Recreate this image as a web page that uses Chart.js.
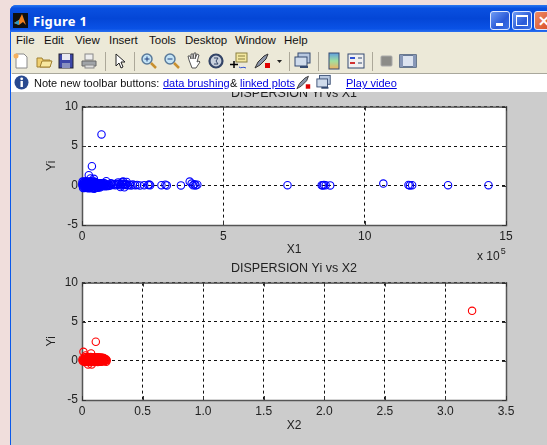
<!DOCTYPE html>
<html><head><meta charset="utf-8">
<script src="https://cdn.jsdelivr.net/npm/chart.js@4"></script>
<style>
html,body{margin:0;padding:0;width:547px;height:445px;overflow:hidden;background:#f0dedc;font-family:"Liberation Sans",sans-serif}
#win{position:absolute;left:10px;top:5px;width:545px;height:445px;background:#0a58ea;border-radius:6px 6px 0 0}
#titlebar{position:absolute;left:0;top:0;width:100%;height:27px;background:linear-gradient(#2a78f0 0,#0a50e0 12%,#0446d6 50%,#0a52e6 88%,#2a70f0 100%);border-radius:6px 6px 0 0}
#ttext{position:absolute;left:23px;top:7px;color:#fff;font:bold 13px "Noto Sans",sans-serif;letter-spacing:.3px}
.wb{position:absolute;top:6px;width:20px;height:19px;box-sizing:border-box;border:1px solid #dfe8ff;border-radius:3px;background:linear-gradient(135deg,#6f9cf4,#2a5ad8 60%,#3a70e6)}
#menu,#tool,#note,#fig{position:absolute;left:12px;width:535px}
#menu{top:32px;height:18px;background:#ece9d8;color:#111;font-size:11.5px;line-height:17px;box-shadow:-1px 0 0 #ece9d8}
#menu span{position:absolute;top:0}
#tool{top:50px;background:#ece9d8;border-bottom:1px solid #a9a89c;height:23px;box-shadow:-1px 0 0 #ece9d8}
#tool svg{position:absolute;top:2px;width:18px;height:18px}
.sep{position:absolute;top:2px;width:1px;height:19px;background:#aca899}
#note{top:74px;height:18px;background:#fff;color:#111;font-size:11px;line-height:18px;z-index:3;white-space:nowrap;box-shadow:-1px 0 0 #fff}
#note span,#note a,#note svg{position:absolute}
#note a{color:#0000e0;text-decoration:underline}
#fig{top:92px;height:353px;background:#cccccc;box-shadow:-1px 0 0 #cccccc}
canvas{position:absolute;left:12px;display:block}
#c1{top:74px;z-index:1}
#c2{top:261px;z-index:1}
#exp{position:absolute;left:477px;top:249px;font:12px "Liberation Sans",sans-serif;color:#222;z-index:2;white-space:nowrap}
#exp sup{font-size:9px;line-height:0;vertical-align:6px;margin-left:1px}
</style></head>
<body>
<div id="win">
  <div id="titlebar">
    <svg style="position:absolute;left:3px;top:8px" width="15" height="15" viewBox="0 0 15 15"><rect width="15" height="15" fill="#101010"/><path d="M1 10 L6 7 L9 1 L13 12 L10 9 L6 12Z" fill="#f08020"/><path d="M1 10 L6 7 L6 12Z" fill="#2a9ac8"/></svg>
    <div id="ttext">Figure 1</div>
    <div class="wb" style="left:480px"><div style="position:absolute;left:5px;bottom:3px;width:7px;height:3px;background:#fff"></div></div>
    <div class="wb" style="left:502px"><div style="position:absolute;left:3px;top:3px;width:12px;height:11px;border:1px solid #fff;border-top-width:2px;box-sizing:border-box"></div></div>
    <div class="wb" style="left:524px;background:linear-gradient(135deg,#ec8a66,#d84a20)"><div style="position:absolute;left:3px;top:1px;color:#fff;font:bold 14px 'Liberation Sans'">✕</div></div>
  </div>
</div>
<div id="menu">
  <span style="left:4px">File</span><span style="left:32px">Edit</span><span style="left:63px">View</span><span style="left:97px">Insert</span><span style="left:137px">Tools</span><span style="left:173px">Desktop</span><span style="left:223px">Window</span><span style="left:272px">Help</span>
</div>
<div id="tool">
  <svg style="left:0" viewBox="0 0 18 18"><path d="M4 2h8l3 3v11H4z" fill="#fff" stroke="#8a8a8a"/><circle cx="4" cy="4" r="2.5" fill="#f4b060"/></svg>
  <svg style="left:23px" viewBox="0 0 18 18"><path d="M2 6h5l1 2h7v7H2z" fill="#f0d070" stroke="#a08030"/><path d="M5 15l2-6h10l-2 6z" fill="#f8e8a0" stroke="#a08030"/></svg>
  <svg style="left:45px" viewBox="0 0 18 18"><rect x="2" y="2" width="14" height="14" fill="#3c46a8" stroke="#223"/><rect x="5" y="2" width="8" height="6" fill="#e8e8f0"/><rect x="5" y="11" width="8" height="5" fill="#8890c0"/></svg>
  <svg style="left:68px" viewBox="0 0 18 18"><rect x="5" y="2" width="8" height="6" fill="#eee" stroke="#888"/><path d="M2 9h14v5H2z" fill="#a0a4a8" stroke="#666"/><rect x="5" y="13" width="9" height="3" fill="#ddd" stroke="#888"/></svg>
  <div class="sep" style="left:93px"></div>
  <svg style="left:99px" viewBox="0 0 18 18"><path d="M5 2v12l3-3 2 5 2-1-2-5h4z" fill="#fff" stroke="#222"/></svg>
  <div class="sep" style="left:122px"></div>
  <svg style="left:128px" viewBox="0 0 18 18"><circle cx="7" cy="7" r="5" fill="#c4e4f6" stroke="#5a7a9a" stroke-width="1.5"/><path d="M11 11l5 5" stroke="#c89030" stroke-width="2.5"/><path d="M4.500 7h5M7 4.500v5" stroke="#204080"/></svg>
  <svg style="left:151px" viewBox="0 0 18 18"><circle cx="7" cy="7" r="5" fill="#c4e4f6" stroke="#5a7a9a" stroke-width="1.5"/><path d="M11 11l5 5" stroke="#c89030" stroke-width="2.5"/><path d="M4.500 7h5" stroke="#204080"/></svg>
  <svg style="left:173px" viewBox="0 0 18 18"><path d="M4 8l-1-4 2 0 1 3V2h2v5l1-6h2l-1 6 2-5 2 1-2 7 2-1 1 1-4 6H7z" fill="#fff" stroke="#555"/></svg>
  <svg style="left:195px" viewBox="0 0 18 18"><circle cx="9" cy="9" r="6.500" fill="#c8d0dc" stroke="#334466" stroke-width="2.200"/><path d="M7 6h4l-2 3 2 3H7" fill="none" stroke="#334466"/></svg>
  <svg style="left:218px" viewBox="0 0 18 18"><rect x="6" y="1" width="11" height="9" fill="#f4e8a0" stroke="#8a8040"/><path d="M8 4h7M8 7h7" stroke="#8a8040"/><path d="M4 9v7M0 12.500h8" stroke="#000" stroke-width="1.500"/><path d="M9 15c2 2 4-1 7 1" stroke="#3050d0" fill="none"/></svg>
  <svg style="left:242px" viewBox="0 0 18 18"><path d="M1 16l3-6 6-6 4-2-2 5-6 6z" fill="#8a94a8" stroke="#333"/><rect x="11" y="11" width="5" height="5" fill="#e00000"/></svg>
  <svg style="left:263px;width:9px" viewBox="0 0 9 18"><path d="M2 8h5l-2.500 3z" fill="#222"/></svg>
  <div class="sep" style="left:277px"></div>
  <svg style="left:282px" viewBox="0 0 18 18"><rect x="4" y="1" width="12" height="10" fill="#b8c8e0" stroke="#344a70"/><rect x="1" y="5" width="12" height="9" fill="#d0dcec" stroke="#344a70"/><path d="M6 15h8" stroke="#344a70" stroke-width="2"/></svg>
  <div class="sep" style="left:306px"></div>
  <svg style="left:313px" viewBox="0 0 18 18"><defs><linearGradient id="g" x1="0" y1="0" x2="0" y2="1"><stop offset="0" stop-color="#60a0e0"/><stop offset=".5" stop-color="#a0e0a0"/><stop offset="1" stop-color="#f0b060"/></linearGradient></defs><rect x="4" y="1" width="10" height="16" fill="url(#g)" stroke="#344a70"/></svg>
  <svg style="left:335px" viewBox="0 0 18 18"><rect x="1" y="2" width="16" height="14" fill="#f0f0f0" stroke="#344a70"/><path d="M3 6h5" stroke="#3050d0" stroke-width="2"/><path d="M3 11h5" stroke="#d03030" stroke-width="2"/><path d="M11 6h4M11 11h4" stroke="#344a70"/></svg>
  <div class="sep" style="left:360px"></div>
  <svg style="left:366px" viewBox="0 0 18 18"><rect x="3" y="4" width="11" height="10" rx="1" fill="#8c8c88" stroke="#aaa"/></svg>
  <svg style="left:387px" viewBox="0 0 18 18"><rect x="1" y="3" width="16" height="12" fill="#dde4f0" stroke="#344a70" stroke-width="1.400"/><rect x="1" y="3" width="3" height="12" fill="#8898b8"/><rect x="14" y="3" width="3" height="12" fill="#8898b8"/></svg>
</div>
<div id="note">
  <svg style="left:2px;top:1px" width="15" height="15" viewBox="0 0 15 15"><circle cx="7.500" cy="7.500" r="7" fill="#2a4a90"/><rect x="6.500" y="6" width="2.400" height="6" fill="#fff"/><circle cx="7.700" cy="3.800" r="1.400" fill="#fff"/></svg>
  <span style="left:22px">Note new toolbar buttons:</span>
  <a style="left:151px">data brushing</a>
  <span style="left:218px">&amp;</span>
  <a style="left:228px">linked plots</a>
  <svg style="left:284px;top:0" width="16" height="17" viewBox="0 0 18 18"><path d="M1 16l3-6 6-6 4-2-2 5-6 6z" fill="#8a94a8" stroke="#333"/><rect x="11" y="11" width="5" height="5" fill="#e00000"/></svg>
  <svg style="left:304px;top:0" width="16" height="17" viewBox="0 0 18 18"><rect x="4" y="1" width="12" height="10" fill="#b8c8e0" stroke="#344a70"/><rect x="1" y="5" width="12" height="9" fill="#d0dcec" stroke="#344a70"/><path d="M6 15h8" stroke="#344a70" stroke-width="2"/></svg>
  <a style="left:334px">Play video</a>
</div>
<div id="fig"></div>
<canvas id="c1" width="535" height="187"></canvas>
<canvas id="c2" width="535" height="184"></canvas>
<div id="exp">x 10<sup>5</sup></div>
<script>
// Panel 1: X1 in units of 10^5, Yi
const x1Sparse = [0.69,0.35,0.24,0.30,0.42,0.86,1.02,1.28,1.36,1.42,1.46,1.5,1.53,1.58,1.62,1.68,1.74,1.8,1.88,1.95,2.05,2.2,2.34,2.38,2.41,2.81,2.95,3.0,3.5,3.81,3.88,3.93,3.98,4.02,4.08,7.27,8.48,8.52,8.56,8.62,8.78,10.66,11.55,11.6,11.68,12.95,14.38];
const y1Sparse = [6.47,2.44,1.3,0.9,0.85,0.55,0.3,0.4,-0.2,0.45,0.5,-0.22,0.1,0.45,0.05,0.1,0.02,0.12,0.05,0.08,0.02,0.05,0.08,0.12,0.05,0.05,0.1,0.02,0.02,0.5,0.25,0.05,0.15,0.02,0.1,0.05,0.05,0.02,0.08,0.05,0.02,0.25,0.08,0.02,0.05,0.05,0.05];
const x1Dense = [0.02,0.06,0.11,0.15,0.21,0.26,0.31,0.35,0.41,0.46,0.5,0.56,0.61,0.65,0.71,0.76,0.81,
0.03,0.08,0.12,0.17,0.22,0.28,0.32,0.37,0.42,0.48,0.52,0.58,0.62,0.67,0.72,0.78,0.83,0.88,0.93,0.98,
0.01,0.05,0.1,0.14,0.19,0.24,0.29,0.34,0.39,0.44,0.49,0.54,0.59,0.64,0.69,0.74,0.79,0.84,0.89,0.94,
0.04,0.09,0.13,0.18,0.23,0.27,0.33,0.38,0.43,0.47,0.53,0.57,0.63,
0.02,0.07,0.12,0.16,0.22,0.27,0.32,0.36,0.42,0.47,
1.04,1.09,1.13,1.18,1.23,1.27,1.32,1.37,1.41,1.45,1.49,1.54,1.58];
const y1Dense = [0.3,0.32,0.28,0.3,0.33,0.27,0.3,0.31,0.29,0.3,0.32,0.3,0.27,0.3,0.28,0.31,0.25,
-0.1,-0.12,-0.08,-0.1,-0.11,-0.09,-0.1,-0.13,-0.08,-0.1,-0.09,-0.1,-0.12,-0.08,-0.1,-0.06,-0.08,-0.05,-0.06,-0.04,
0.1,0.12,0.09,0.1,0.11,0.08,0.1,0.12,0.1,0.09,0.1,0.11,0.1,0.08,0.1,0.12,0.1,0.09,0.1,0.11,
-0.3,-0.32,-0.28,-0.3,-0.33,-0.3,-0.35,-0.31,-0.42,-0.3,-0.28,-0.26,-0.24,
0.5,0.48,0.52,0.5,0.47,0.5,0.52,0.49,0.5,0.44,
0.2,0.08,0.18,0.04,0.2,0.1,0.22,0.05,0.24,0.12,0.18,0.06,0.15];
const x1Ticks = [0,5,10,15];
// Panel 2: X2, Yi
const x2Sparse = [3.22,0.114,0.012,0.075,0.03,0.05,0.08];
const y2Sparse = [6.4,2.44,1.15,0.95,0.7,-0.45,-0.45];
const x2Dense = [0.024,0.036,0.048,0.06,0.072,0.084,0.096,0.108,0.12,0.132,0.144,0.156,0.168,0.18,
0.006,0.018,0.03,0.042,0.054,0.066,0.078,0.09,0.102,0.114,0.126,0.138,0.15,0.162,0.174,0.186,0.198,
0.004,0.016,0.028,0.04,0.052,0.064,0.076,0.088,0.1,0.112,0.124,0.136,0.148,0.16,0.172,0.184,0.196,0.204,
0.008,0.02,0.032,0.044,0.056,0.068,0.08,0.092,0.104,0.116,0.128,0.14,0.152,0.164,0.176,0.188,0.2,
0.022,0.034,0.046,0.058,0.07,0.082,0.094,0.106,0.118,0.13,0.142,0.154,0.166,0.178];
const y2Dense = [0.45,0.47,0.44,0.46,0.48,0.45,0.44,0.46,0.43,0.45,0.42,0.44,0.4,0.38,
0.25,0.27,0.24,0.26,0.25,0.28,0.24,0.26,0.25,0.27,0.24,0.25,0.26,0.24,0.25,0.23,0.22,
0.08,0.1,0.07,0.09,0.08,0.1,0.07,0.09,0.08,0.1,0.08,0.07,0.09,0.08,0.1,0.08,0.07,0.09,
-0.05,-0.03,-0.06,-0.04,-0.05,-0.03,-0.06,-0.04,-0.05,-0.03,-0.05,-0.04,-0.06,-0.03,-0.05,-0.02,
-0.12,-0.14,-0.11,-0.13,-0.12,-0.14,-0.11,-0.13,-0.12,-0.11,-0.13,-0.1,-0.12,-0.09];
const x2Ticks = [0,0.5,1,1.5,2,2.5,3,3.5];
const yiTicks = [-5,0,5,10];

const FONT = {family:'"Liberation Sans",Arial,sans-serif',size:12};
const TXT = '#222222';
const box = {
  id:'box',
  beforeDraw(c){
    const a=c.chartArea,g=c.ctx;
    g.save();g.fillStyle='#ffffff';g.fillRect(a.left,a.top,a.right-a.left,a.bottom-a.top);g.restore();
  },
  beforeDatasetsDraw(c){
    const a=c.chartArea,g=c.ctx;
    g.save();
    g.strokeStyle='#555';g.lineWidth=1.5;g.setLineDash([]);
    g.strokeRect(a.left+.5,a.top+.5,a.right-a.left,a.bottom-a.top);
    g.lineWidth=1;g.strokeStyle='#333';
    c.scales.x.ticks.forEach(t=>{const p=Math.round(c.scales.x.getPixelForValue(t.value))+.5;
      g.beginPath();g.moveTo(p,a.bottom);g.lineTo(p,a.bottom-4);g.moveTo(p,a.top);g.lineTo(p,a.top+4);g.stroke();});
    c.scales.y.ticks.forEach(t=>{const p=Math.round(c.scales.y.getPixelForValue(t.value))+.5;
      g.beginPath();g.moveTo(a.left,p);g.lineTo(a.left+4,p);g.moveTo(a.right,p);g.lineTo(a.right-4,p);g.stroke();});
    g.restore();
  }
};
function panel(id,xs,ys,xTicks,color,xTitle,title,o){
  const xMax=xTicks[xTicks.length-1];
  return new Chart(document.getElementById(id),{
    type:'scatter',
    data:{datasets:[{data:xs.map((x,i)=>({x:x,y:ys[i]})),showLine:false,clip:false,
      pointStyle:'circle',pointRadius:3.7,pointHoverRadius:3.7,borderColor:color,borderWidth:1.1,backgroundColor:'rgba(0,0,0,0)'}]},
    options:{responsive:false,animation:false,
      layout:{padding:{left:0,right:41,top:0,bottom:o.pb}},
      plugins:{legend:{display:false},tooltip:{enabled:false},
        title:{display:true,fullSize:false,text:title,color:TXT,font:{...FONT,weight:'normal',size:12.5},padding:o.titlePad}},
      scales:{
        x:{type:'linear',min:0,max:xMax,afterBuildTicks(s){s.ticks=xTicks.map(v=>({value:v}));},
          afterFit(s){s.height=o.xh;},
          border:{display:false,dash:[3,3]},
          grid:{color:'#111',lineWidth:1,drawTicks:false},
          ticks:{color:TXT,font:FONT,padding:4,maxRotation:0,autoSkip:false},
          title:{display:true,text:xTitle,color:TXT,font:FONT,padding:{top:o.xtp,bottom:0}}},
        y:{type:'linear',min:-5,max:10,afterBuildTicks(s){s.ticks=yiTicks.map(v=>({value:v}));},
          afterFit(s){s.width=70;},
          border:{display:false,dash:[3,3]},
          grid:{color:'#111',lineWidth:1,drawTicks:false},
          ticks:{color:TXT,font:FONT,padding:4},
          title:{display:true,text:'Yi',color:TXT,font:FONT,padding:{top:32,bottom:0}}}
      }
    },
    plugins:[box]
  });
}
panel('c1',x1Sparse.concat(x1Dense),y1Sparse.concat(y1Dense),x1Ticks,'#0000ff','X1','DISPERSION Yi vs X1',{titlePad:{top:12,bottom:5.6},xh:32,pb:4,xtp:8});
panel('c2',x2Sparse.concat(x2Dense),y2Sparse.concat(y2Dense),x2Ticks,'#ff0000','X2','DISPERSION Yi vs X2',{titlePad:{top:0,bottom:6.6},xh:33,pb:12,xtp:8});
</script>
</body></html>
